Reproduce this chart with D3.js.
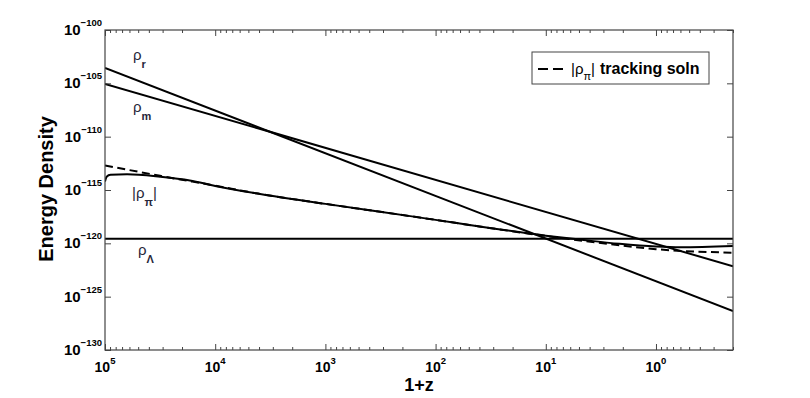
<!DOCTYPE html>
<html>
<head>
<meta charset="utf-8">
<script src="https://cdn.jsdelivr.net/npm/d3@7"></script>
<style>
  body { margin: 0; background: #fff; }
  svg { display: block; font-family: "Liberation Sans", Arial, Helvetica, sans-serif; }
</style>
</head>
<body>
<svg></svg>
<script>
// values: x is 1+z, y is log10 of the energy density
var radZ = [1e5, 0.2];
var radExp = [-103.55, -126.35];
var matZ = [1e5, 0.2];
var matExp = [-105.05, -122.15];
var lamZ = [1e5, 0.2];
var lamExp = [-119.57, -119.57];

var trackZ = [1e5, 3.16e4, 1e4, 3.92e3, 1e3, 170, 100, 40, 10, 3.16, 1, 0.2];
var trackExp = [-112.70, -113.67, -114.60, -115.37, -116.30, -117.45, -117.80, -118.42, -119.31, -119.97, -120.55, -120.88];

var piZ = [1e5, 9.66e4, 8.91e4, 6.31e4, 3.16e4, 1.7e4, 1e4, 3.92e3, 1e3, 170, 100, 40, 10, 4.9, 2.14, 1, 0.6, 0.2];
var piExp = [-114.2, -113.75, -113.58, -113.52, -113.75, -114.10, -114.62, -115.37, -116.30, -117.45, -117.80, -118.42, -119.28, -119.65, -120.05, -120.30, -120.37, -120.25];

var xMajor = [1e5, 1e4, 1e3, 1e2, 1e1, 1e0];
var xMajorExp = ["5", "4", "3", "2", "1", "0"];
var yMajorExp = [-130, -125, -120, -115, -110, -105, -100];

var width = 810;
var height = 398;
var pLeft = 105, pRight = 733, pTop = 30, pBottom = 350;

var svg = d3.select("svg")
  .attr("width", width)
  .attr("height", height);

var x = d3.scaleLog().domain([1e5, 0.2]).range([pLeft, pRight]);
var y = d3.scaleLog().domain([1e-130, 1e-100]).range([pBottom, pTop]);

var xMinor = [];
for (var n = -1; n < 5; n++) {
  for (var k = 2; k <= 9; k++) {
    var v = k * Math.pow(10, n);
    if (v >= 0.2 && v <= 1e5) xMinor.push(v);
  }
}
var yTicks = yMajorExp.map(e => Math.pow(10, e));

// clip
svg.append("defs").append("clipPath").attr("id", "plot")
  .append("rect")
    .attr("x", pLeft).attr("y", pTop)
    .attr("width", pRight - pLeft).attr("height", pBottom - pTop);

var line = d3.line()
  .x(d => x(d[0]))
  .y(d => y(Math.pow(10, d[1])))
  .curve(d3.curveMonotoneX);

var curves = svg.append("g").attr("clip-path", "url(#plot)");

function draw(zs, es, dash) {
  curves.append("path")
    .datum(zs.map((z, i) => [z, es[i]]))
    .attr("d", line)
    .attr("fill", "none")
    .attr("stroke", "#000")
    .attr("stroke-width", 2)
    .attr("stroke-dasharray", dash || null);
}

draw(lamZ, lamExp);
draw(radZ, radExp);
draw(matZ, matExp);
draw(trackZ, trackExp, "8,4.5");
draw(piZ, piExp);

// axes: box with inward ticks on all sides
var axisColor = "#444";
function styleAxis(g) {
  g.select(".domain").remove();
  g.selectAll(".tick line").attr("stroke", axisColor).attr("stroke-width", 1);
  g.selectAll(".tick text").remove();
}

svg.append("g").attr("transform", "translate(0," + pBottom + ")")
  .call(d3.axisBottom(x).tickValues(xMajor).tickSize(-6).tickFormat("")).call(styleAxis);
svg.append("g").attr("transform", "translate(0," + pBottom + ")")
  .call(d3.axisBottom(x).tickValues(xMinor).tickSize(-3).tickFormat("")).call(styleAxis);
svg.append("g").attr("transform", "translate(0," + pTop + ")")
  .call(d3.axisTop(x).tickValues(xMajor).tickSize(-6).tickFormat("")).call(styleAxis);
svg.append("g").attr("transform", "translate(0," + pTop + ")")
  .call(d3.axisTop(x).tickValues(xMinor).tickSize(-3).tickFormat("")).call(styleAxis);
svg.append("g").attr("transform", "translate(" + pLeft + ",0)")
  .call(d3.axisLeft(y).tickValues(yTicks).tickSize(-6).tickFormat("")).call(styleAxis);
svg.append("g").attr("transform", "translate(" + pRight + ",0)")
  .call(d3.axisRight(y).tickValues(yTicks).tickSize(-6).tickFormat("")).call(styleAxis);

svg.append("rect")
  .attr("x", pLeft).attr("y", pTop)
  .attr("width", pRight - pLeft).attr("height", pBottom - pTop)
  .attr("fill", "none")
  .attr("stroke", axisColor)
  .attr("stroke-width", 1.2);

// tick labels
xMajor.forEach(function (v, i) {
  var t = svg.append("text")
    .attr("x", x(v))
    .attr("y", pBottom + 22)
    .attr("text-anchor", "middle")
    .attr("font-weight", "bold")
    .attr("font-size", 14);
  t.append("tspan").text("10");
  t.append("tspan").attr("dy", -8.5).attr("font-size", 9.5).text(xMajorExp[i]);
});

yMajorExp.forEach(function (e) {
  var t = svg.append("text")
    .attr("x", pLeft - 3)
    .attr("y", y(Math.pow(10, e)) + 5)
    .attr("text-anchor", "end")
    .attr("font-weight", "bold")
    .attr("font-size", 15);
  t.append("tspan").text("10");
  t.append("tspan").attr("dy", -9).attr("font-size", 9.5).text("\u2212" + (-e));
});

// axis titles
svg.append("text")
  .attr("x", (pLeft + pRight) / 2)
  .attr("y", 391)
  .attr("text-anchor", "middle")
  .attr("font-weight", "bold")
  .attr("font-size", 18)
  .text("1+z");

svg.append("text")
  .attr("transform", "translate(53," + 189 + ") rotate(-90)")
  .attr("text-anchor", "middle")
  .attr("font-weight", "bold")
  .attr("font-size", 20)
  .text("Energy Density");

// curve labels
var labelColor = "#26263a";
function rhoLabel(px, py, sub, subDy, bars) {
  var t = svg.append("text")
    .attr("x", px).attr("y", py)
    .attr("fill", labelColor)
    .attr("font-size", 15);
  if (bars) t.append("tspan").text("|");
  t.append("tspan").text("\u03c1");
  t.append("tspan").attr("dy", subDy).attr("font-size", 11).attr("font-weight", "bold").text(sub);
  if (bars) t.append("tspan").attr("dy", -subDy).text("|");
}
rhoLabel(133, 60, "r", 8);
rhoLabel(133, 112, "m", 8);
rhoLabel(132, 198, "\u03c0", 8, true);
rhoLabel(138, 255, "\u039b", 8);

// legend
var lg = svg.append("g");
lg.append("rect")
  .attr("x", 532).attr("y", 52)
  .attr("width", 177).attr("height", 32)
  .attr("fill", "#fff")
  .attr("stroke", axisColor)
  .attr("stroke-width", 1);
lg.append("line")
  .attr("x1", 538).attr("x2", 564)
  .attr("y1", 69).attr("y2", 69)
  .attr("stroke", "#000")
  .attr("stroke-width", 2.2)
  .attr("stroke-dasharray", "10,5");
var lt = lg.append("text")
  .attr("x", 571).attr("y", 74)
  .attr("font-size", 15);
lt.append("tspan").text("|\u03c1");
lt.append("tspan").attr("dy", 6).attr("font-size", 11).text("\u03c0");
lt.append("tspan").attr("dy", -6).text("|");
lt.append("tspan").attr("dx", 5).attr("font-weight", "bold").attr("font-size", 16).text("tracking soln");
</script>
</body>
</html>
